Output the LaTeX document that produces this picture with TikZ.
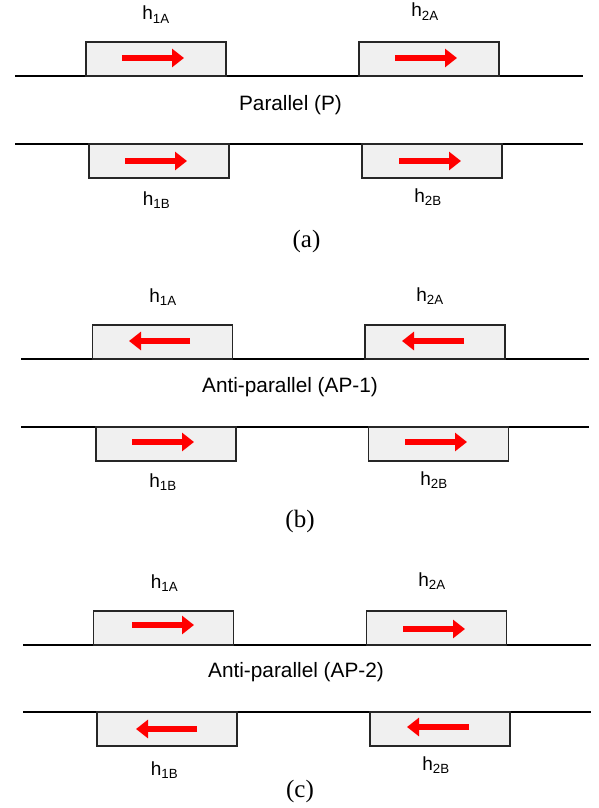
\documentclass[tikz,border=0pt]{standalone}
\usepackage{fontspec}
\setmainfont{Liberation Sans}
\newfontfamily\serifcap{Liberation Serif}
\usetikzlibrary{arrows.meta}
\definecolor{boxfill}{RGB}{240,240,240}
\definecolor{magred}{RGB}{255,0,0}
\tikzset{
  magbox/.style={draw=black!85, line width=1.2pt, fill=boxfill, rectangle,
    minimum width=140pt, minimum height=34pt, inner sep=0pt, outer sep=0pt},
  filmline/.style={draw=black, line width=1.2pt},
  magarrow/.style={draw=magred, line width=6pt,
    -{Triangle[length=12pt,width=18pt,fill=magred]}},
  hlabel/.style={anchor=base, font=\fontsize{19}{22}\selectfont, inner sep=0pt},
  caption/.style={anchor=base, font=\fontsize{20.8}{25}\selectfont, inner sep=0pt},
  panel/.style={anchor=base, font=\serifcap\fontsize{25}{29}\selectfont, inner sep=0pt}
}
\begin{document}
\begin{tikzpicture}[x=1pt,y=-1pt]
\useasboundingbox (0,0) rectangle (598,808);

% ---------- (a) ----------
\coordinate (aTl) at (15,76);  \coordinate (aTr) at (583,76);
\coordinate (aBl) at (15,144); \coordinate (aBr) at (583,144);
\draw[filmline] (aTl) -- (aTr);
\draw[filmline] (aBl) -- (aBr);
\node[magbox] (a1A) at (156,59) {};
\node[magbox] (a2A) at (429,59) {};
\node[magbox] (a1B) at (159,161) {};
\node[magbox] (a2B) at (432,161) {};
\draw[magarrow] (122,58) -- (184,58);
\draw[magarrow] (395,58) -- (457,58);
\draw[magarrow] (125,161) -- (187,161);
\draw[magarrow] (399,161) -- (461,161);
\node[hlabel] (la1A) at (156,20) {h\textsubscript{1A}};
\node[hlabel] (la2A) at (425,17) {h\textsubscript{2A}};
\node[hlabel] (la1B) at (156.5,205) {h\textsubscript{1B}};
\node[hlabel] (la2B) at (428,202) {h\textsubscript{2B}};
\node[caption] (capa) at (290.5,110) {Parallel (P)};
\node[panel] (pa) at (306.5,247) {(a)};

% ---------- (b) ----------
\coordinate (bTl) at (21,359);  \coordinate (bTr) at (589,359);
\coordinate (bBl) at (21,427);  \coordinate (bBr) at (589,427);
\draw[filmline] (bTl) -- (bTr);
\draw[filmline] (bBl) -- (bBr);
\node[magbox] (b1A) at (162.5,342) {};
\node[magbox] (b2A) at (435,342) {};
\node[magbox] (b1B) at (166,444) {};
\node[magbox] (b2B) at (438.5,444) {};
\draw[magarrow] (190,341) -- (129,341);
\draw[magarrow] (464,341) -- (402,341);
\draw[magarrow] (132,442) -- (194,442);
\draw[magarrow] (405,442) -- (467,442);
\node[hlabel] (lb1A) at (163,302) {h\textsubscript{1A}};
\node[hlabel] (lb2A) at (430,301) {h\textsubscript{2A}};
\node[hlabel] (lb1B) at (163,487) {h\textsubscript{1B}};
\node[hlabel] (lb2B) at (434,485) {h\textsubscript{2B}};
\node[caption] (capb) at (290,392) {Anti-parallel (AP-1)};
\node[panel] (pb) at (300,527) {(b)};

% ---------- (c) ----------
\coordinate (cTl) at (23,645);  \coordinate (cTr) at (591,645);
\coordinate (cBl) at (23,712);  \coordinate (cBr) at (591,712);
\draw[filmline] (cTl) -- (cTr);
\draw[filmline] (cBl) -- (cBr);
\node[magbox] (c1A) at (163.5,628) {};
\node[magbox] (c2A) at (436.5,628) {};
\node[magbox] (c1B) at (167,729) {};
\node[magbox] (c2B) at (440,729) {};
\draw[magarrow] (132,625) -- (194,625);
\draw[magarrow] (403,629) -- (465,629);
\draw[magarrow] (197,729) -- (136,729);
\draw[magarrow] (469,727) -- (407,727);
\node[hlabel] (lc1A) at (164.5,588) {h\textsubscript{1A}};
\node[hlabel] (lc2A) at (432,586) {h\textsubscript{2A}};
\node[hlabel] (lc1B) at (164.5,775) {h\textsubscript{1B}};
\node[hlabel] (lc2B) at (436,770) {h\textsubscript{2B}};
\node[caption] (capc) at (296,677) {Anti-parallel (AP-2)};
\node[panel] (pc) at (300,797) {(c)};
\end{tikzpicture}
\end{document}
